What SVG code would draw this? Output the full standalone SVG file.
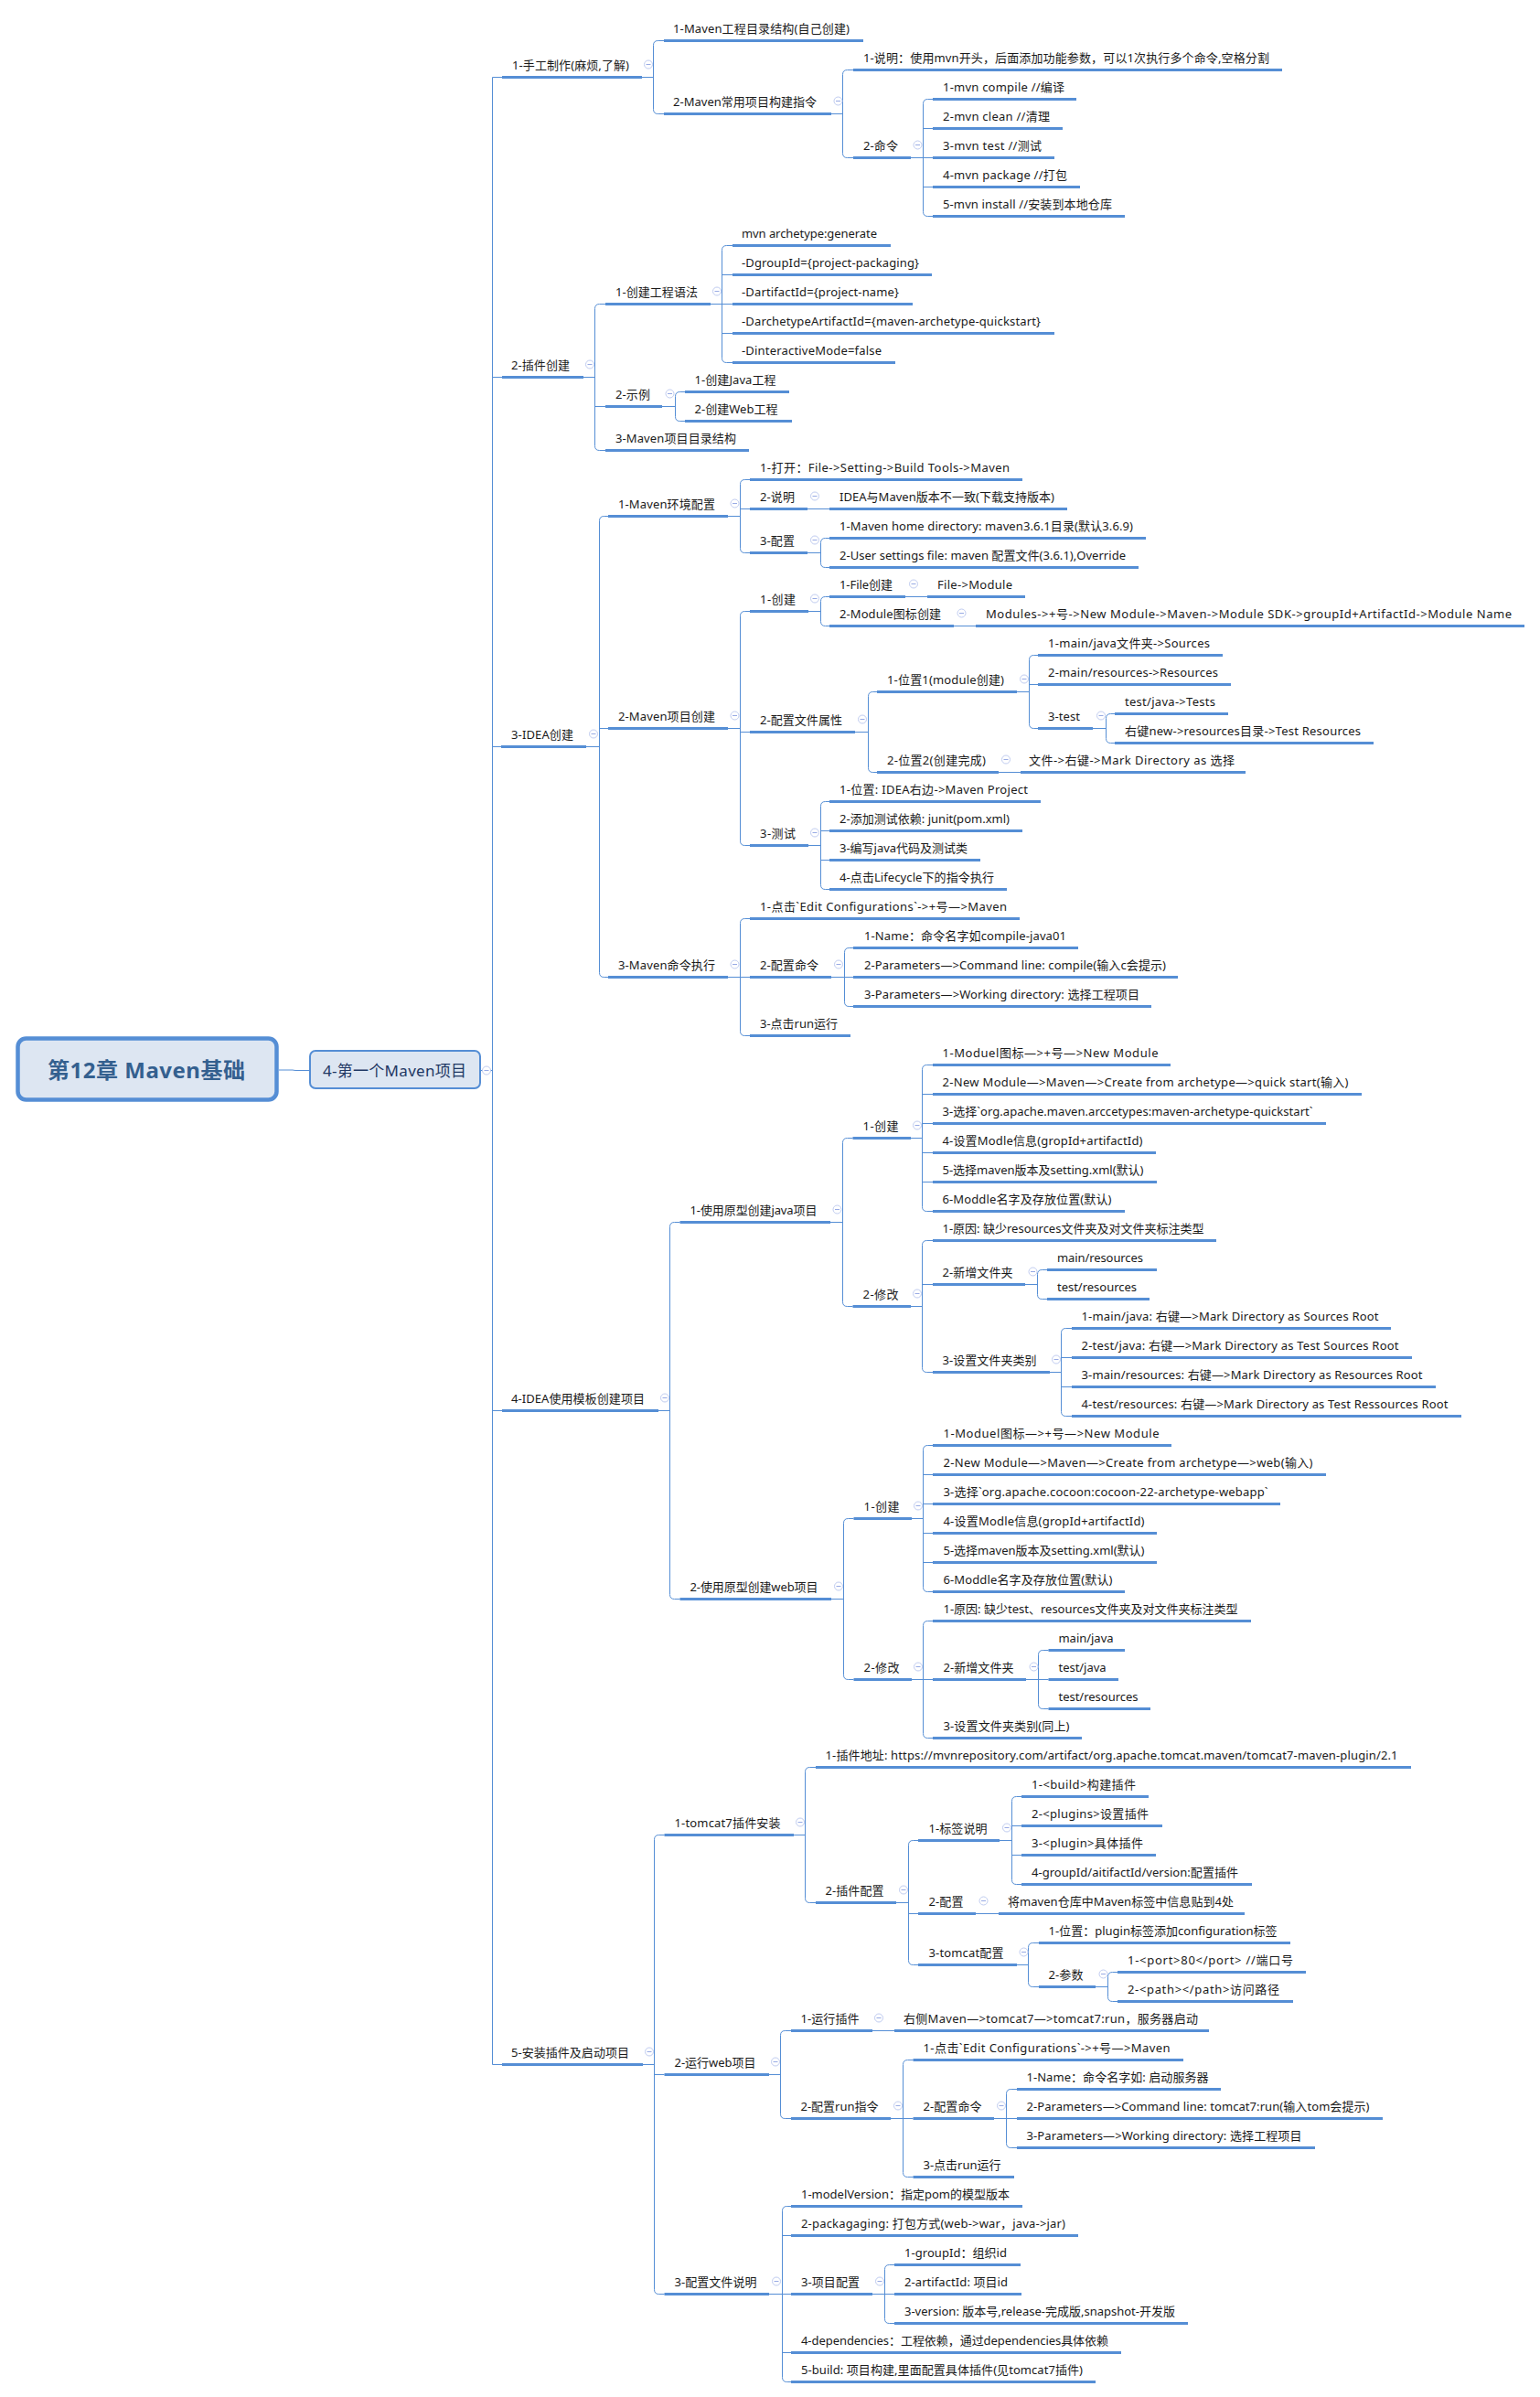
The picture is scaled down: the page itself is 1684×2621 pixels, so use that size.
<svg xmlns="http://www.w3.org/2000/svg" xmlns:xlink="http://www.w3.org/1999/xlink" width="1684" height="2621" viewBox="0 0 1684 2621">
<style>
text{font-family:"Noto Sans","Noto Sans CJK SC",sans-serif;font-size:13px;fill:#1a1a1a}
.u{fill:none;stroke:#558ed5;stroke-width:3}
.c path{fill:none;stroke:#558ed5;stroke-width:1}
.box{fill:#dde6f2;stroke:#558ed5}
</style>
<defs><g id="m"><circle r="4.5" fill="#fff" stroke="#c0ccf0" stroke-width="1"/><path d="M-2.5,0H2.5" stroke="#98aae4" stroke-width="1"/></g></defs>
<rect width="1684" height="2621" fill="#fff"/>
<g class="c" id="connectors">
<path d="M305,1170H320Q322,1170.5 324,1170.5H338"/>
<path d="M526,1170.5H538.5M549,84.5H538.5V2257.5H549M538.5,412.5H549M538.5,816.5H548M538.5,1542.5H549"/>
<path d="M702,84.5H714.5M726,44.5H719.5Q714.5,44.5 714.5,49.5V119.5Q714.5,124.5 719.5,124.5H726"/>
<path d="M909,124.5H921.5M933,76.5H926.5Q921.5,76.5 921.5,81.5V167.5Q921.5,172.5 926.5,172.5H933"/>
<path d="M996,172.5H1009.5M1020,108.5H1014.5Q1009.5,108.5 1009.5,113.5V231.5Q1009.5,236.5 1014.5,236.5H1020M1009.5,140.5H1020M1009.5,172.5H1020M1009.5,204.5H1020"/>
<path d="M638,412.5H650.5M662,332.5H655.5Q650.5,332.5 650.5,337.5V487.5Q650.5,492.5 655.5,492.5H662M650.5,444.5H662"/>
<path d="M777,332.5H789.5M801,268.5H794.5Q789.5,268.5 789.5,273.5V391.5Q789.5,396.5 794.5,396.5H801M789.5,300.5H801M789.5,332.5H801M789.5,364.5H801"/>
<path d="M724,444.5H738.5M749,428.5H743.5Q738.5,428.5 738.5,433.5V455.5Q738.5,460.5 743.5,460.5H749"/>
<path d="M641,816.5H655.5M665,564.5H660.5Q655.5,564.5 655.5,569.5V1063.5Q655.5,1068.5 660.5,1068.5H665M655.5,796.5H665"/>
<path d="M796,564.5H809.5M820,524.5H814.5Q809.5,524.5 809.5,529.5V599.5Q809.5,604.5 814.5,604.5H820M809.5,556.5H820"/>
<path d="M883,556.5H907"/>
<path d="M883,604.5H897.5M907,588.5H902.5Q897.5,588.5 897.5,593.5V615.5Q897.5,620.5 902.5,620.5H907"/>
<path d="M796,796.5H809.5M820,668.5H814.5Q809.5,668.5 809.5,673.5V919.5Q809.5,924.5 814.5,924.5H820M809.5,800.5H820"/>
<path d="M884,668.5H897.5M907,652.5H902.5Q897.5,652.5 897.5,657.5V679.5Q897.5,684.5 902.5,684.5H907"/>
<path d="M990,652.5H1014M1043,684.5H1067"/>
<path d="M935,800.5H949.5M959,756.5H954.5Q949.5,756.5 949.5,761.5V839.5Q949.5,844.5 954.5,844.5H959"/>
<path d="M1112,756.5H1125.5M1135,716.5H1130.5Q1125.5,716.5 1125.5,721.5V791.5Q1125.5,796.5 1130.5,796.5H1135M1125.5,748.5H1135"/>
<path d="M1195,796.5H1209.5M1219,780.5H1214.5Q1209.5,780.5 1209.5,785.5V807.5Q1209.5,812.5 1214.5,812.5H1219"/>
<path d="M1092,844.5H1116"/>
<path d="M884,924.5H897.5M907,876.5H902.5Q897.5,876.5 897.5,881.5V967.5Q897.5,972.5 902.5,972.5H907M897.5,908.5H907M897.5,940.5H907"/>
<path d="M796,1068.5H809.5M820,1004.5H814.5Q809.5,1004.5 809.5,1009.5V1127.5Q809.5,1132.5 814.5,1132.5H820M809.5,1068.5H820"/>
<path d="M909,1068.5H923.5M933,1036.5H928.5Q923.5,1036.5 923.5,1041.5V1095.5Q923.5,1100.5 928.5,1100.5H933M923.5,1068.5H933"/>
<path d="M720,1542.5H732.5M743.5,1336.5H737.5Q732.5,1336.5 732.5,1341.5V1743.5Q732.5,1748.5 737.5,1748.5H743.5"/>
<path d="M908,1336.5H921.5M932.5,1244.5H926.5Q921.5,1244.5 921.5,1249.5V1423.5Q921.5,1428.5 926.5,1428.5H932.5"/>
<path d="M996,1244.5H1008.5M1020,1164.5H1013.5Q1008.5,1164.5 1008.5,1169.5V1319.5Q1008.5,1324.5 1013.5,1324.5H1020M1008.5,1196.5H1020M1008.5,1228.5H1020M1008.5,1260.5H1020M1008.5,1292.5H1020"/>
<path d="M996,1428.5H1008.5M1020,1356.5H1013.5Q1008.5,1356.5 1008.5,1361.5V1495.5Q1008.5,1500.5 1013.5,1500.5H1020M1008.5,1404.5H1020"/>
<path d="M1121,1404.5H1134.5M1145,1388.5H1139.5Q1134.5,1388.5 1134.5,1393.5V1415.5Q1134.5,1420.5 1139.5,1420.5H1145"/>
<path d="M1148,1500.5H1160.5M1172,1452.5H1165.5Q1160.5,1452.5 1160.5,1457.5V1543.5Q1160.5,1548.5 1165.5,1548.5H1172M1160.5,1484.5H1172M1160.5,1516.5H1172"/>
<path d="M909,1748.5H922.5M933.5,1660.5H927.5Q922.5,1660.5 922.5,1665.5V1831.5Q922.5,1836.5 927.5,1836.5H933.5"/>
<path d="M997,1660.5H1009.5M1020,1580.5H1014.5Q1009.5,1580.5 1009.5,1585.5V1735.5Q1009.5,1740.5 1014.5,1740.5H1020M1009.5,1612.5H1020M1009.5,1644.5H1020M1009.5,1676.5H1020M1009.5,1708.5H1020"/>
<path d="M997,1836.5H1009.5M1020,1772.5H1014.5Q1009.5,1772.5 1009.5,1777.5V1895.5Q1009.5,1900.5 1014.5,1900.5H1020M1009.5,1836.5H1020"/>
<path d="M1122,1836.5H1135.5M1146.5,1804.5H1140.5Q1135.5,1804.5 1135.5,1809.5V1863.5Q1135.5,1868.5 1140.5,1868.5H1146.5M1135.5,1836.5H1146.5"/>
<path d="M703,2257.5H715.5M726.5,2006.5H720.5Q715.5,2006.5 715.5,2011.5V2503.5Q715.5,2508.5 720.5,2508.5H726.5M715.5,2268.5H726.5"/>
<path d="M868,2006.5H880.5M892,1932.5H885.5Q880.5,1932.5 880.5,1937.5V2075.5Q880.5,2080.5 885.5,2080.5H892"/>
<path d="M980,2080.5H993.5M1004,2012.5H998.5Q993.5,2012.5 993.5,2017.5V2143.5Q993.5,2148.5 998.5,2148.5H1004M993.5,2092.5H1004"/>
<path d="M1093,2012.5H1106.5M1117,1964.5H1111.5Q1106.5,1964.5 1106.5,1969.5V2055.5Q1106.5,2060.5 1111.5,2060.5H1117M1106.5,1996.5H1117M1106.5,2028.5H1117"/>
<path d="M1067,2092.5H1092"/>
<path d="M1112,2148.5H1124.5M1136,2124.5H1129.5Q1124.5,2124.5 1124.5,2129.5V2167.5Q1124.5,2172.5 1129.5,2172.5H1136"/>
<path d="M1198,2172.5H1211.5M1222,2156.5H1216.5Q1211.5,2156.5 1211.5,2161.5V2183.5Q1211.5,2188.5 1216.5,2188.5H1222"/>
<path d="M841,2268.5H853.5M865,2220.5H858.5Q853.5,2220.5 853.5,2225.5V2311.5Q853.5,2316.5 858.5,2316.5H865"/>
<path d="M954,2220.5H978"/>
<path d="M974,2316.5H987.5M998.5,2252.5H992.5Q987.5,2252.5 987.5,2257.5V2375.5Q987.5,2380.5 992.5,2380.5H998.5M987.5,2316.5H998.5"/>
<path d="M1087,2316.5H1100.5M1112,2284.5H1105.5Q1100.5,2284.5 1100.5,2289.5V2343.5Q1100.5,2348.5 1105.5,2348.5H1112M1100.5,2316.5H1112"/>
<path d="M841,2508.5H855.5M865,2412.5H860.5Q855.5,2412.5 855.5,2417.5V2599.5Q855.5,2604.5 860.5,2604.5H865M855.5,2444.5H865M855.5,2508.5H865M855.5,2572.5H865"/>
<path d="M954,2508.5H967.5M978,2476.5H972.5Q967.5,2476.5 967.5,2481.5V2535.5Q967.5,2540.5 972.5,2540.5H978M967.5,2508.5H978"/>
</g>
<g id="root"><rect class="box" x="19.5" y="1135.5" width="283" height="67" rx="9" stroke-width="4.5"/><text x="52" y="1179" textLength="216" style="font-size:24px;font-weight:700;fill:#34608f">第12章 Maven基础</text></g>
<g id="sub"><rect class="box" x="339" y="1149" width="186" height="41" rx="6" stroke-width="2"/><text x="353" y="1177" textLength="157" style="font-size:17px;fill:#1f3864">4-第一个Maven项目</text><use href="#m" x="532" y="1170.5"/></g>
<g id="a1"><text x="560" y="76" textLength="128">1-手工制作(麻烦,了解)</text><path class="u" d="M549,84.5H702"/><use href="#m" x="709" y="70.5"/></g>
<g id="a1-1"><text x="736" y="36" textLength="193">1-Maven工程目录结构(自己创建)</text><path class="u" d="M726,44.5H944"/></g>
<g id="a1-2"><text x="736" y="116" textLength="157">2-Maven常用项目构建指令</text><path class="u" d="M726,124.5H909"/><use href="#m" x="916.5" y="110.5"/></g>
<g id="a1-2-1"><text x="944" y="68" textLength="444">1-说明：使用mvn开头，后面添加功能参数，可以1次执行多个命令,空格分割</text><path class="u" d="M933,76.5H1402"/></g>
<g id="a1-2-2"><text x="944" y="164" textLength="38">2-命令</text><path class="u" d="M933,172.5H996"/><use href="#m" x="1003.5" y="158.5"/></g>
<g id="c1"><text x="1031" y="100" textLength="133">1-mvn compile //编译</text><path class="u" d="M1020,108.5H1177"/></g>
<g id="c2"><text x="1031" y="132" textLength="117">2-mvn clean //清理</text><path class="u" d="M1020,140.5H1162"/></g>
<g id="c3"><text x="1031" y="164" textLength="108">3-mvn test //测试</text><path class="u" d="M1020,172.5H1153"/></g>
<g id="c4"><text x="1031" y="196" textLength="136">4-mvn package //打包</text><path class="u" d="M1020,204.5H1181"/></g>
<g id="c5"><text x="1031" y="228" textLength="185">5-mvn install //安装到本地仓库</text><path class="u" d="M1020,236.5H1230"/></g>
<g id="a2"><text x="559" y="404" textLength="64">2-插件创建</text><path class="u" d="M549,412.5H638"/><use href="#m" x="645" y="398.5"/></g>
<g id="a2-1"><text x="673" y="324" textLength="90">1-创建工程语法</text><path class="u" d="M662,332.5H777"/><use href="#m" x="784" y="318.5"/></g>
<g id="d1"><text x="811" y="260" textLength="148">mvn archetype:generate</text><path class="u" d="M801,268.5H974"/></g>
<g id="d2"><text x="811" y="292" textLength="194">-DgroupId={project-packaging}</text><path class="u" d="M801,300.5H1019"/></g>
<g id="d3"><text x="811" y="324" textLength="172">-DartifactId={project-name}</text><path class="u" d="M801,332.5H998"/></g>
<g id="d4"><text x="811" y="356" textLength="327">-DarchetypeArtifactId={maven-archetype-quickstart}</text><path class="u" d="M801,364.5H1153"/></g>
<g id="d5"><text x="811" y="388" textLength="153">-DinteractiveMode=false</text><path class="u" d="M801,396.5H979"/></g>
<g id="a2-2"><text x="673" y="436" textLength="38">2-示例</text><path class="u" d="M662,444.5H724"/><use href="#m" x="732.5" y="430.5"/></g>
<g id="e1"><text x="759.5" y="420" textLength="89">1-创建Java工程</text><path class="u" d="M749,428.5H863"/></g>
<g id="e2"><text x="759.5" y="452" textLength="91">2-创建Web工程</text><path class="u" d="M749,460.5H866"/></g>
<g id="a2-3"><text x="673" y="484" textLength="132">3-Maven项目目录结构</text><path class="u" d="M662,492.5H819"/></g>
<g id="a3"><text x="559" y="808" textLength="68">3-IDEA创建</text><path class="u" d="M548,816.5H641"/><use href="#m" x="649" y="802.5"/></g>
<g id="a3-1"><text x="676" y="556" textLength="106">1-Maven环境配置</text><path class="u" d="M665,564.5H796"/><use href="#m" x="803.5" y="550.5"/></g>
<g id="f1"><text x="831" y="516" textLength="273">1-打开：File-&gt;Setting-&gt;Build Tools-&gt;Maven</text><path class="u" d="M820,524.5H1118"/></g>
<g id="f2"><text x="831" y="548" textLength="38">2-说明</text><path class="u" d="M820,556.5H883"/><use href="#m" x="891" y="542.5"/></g>
<g id="f2-1"><text x="918" y="548" textLength="235">IDEA与Maven版本不一致(下载支持版本)</text><path class="u" d="M907,556.5H1167"/></g>
<g id="f3"><text x="831" y="596" textLength="38">3-配置</text><path class="u" d="M820,604.5H883"/><use href="#m" x="891" y="590.5"/></g>
<g id="f3-1"><text x="918" y="580" textLength="321">1-Maven home directory: maven3.6.1目录(默认3.6.9)</text><path class="u" d="M907,588.5H1253"/></g>
<g id="f3-2"><text x="918" y="612" textLength="313">2-User settings file: maven 配置文件(3.6.1),Override</text><path class="u" d="M907,620.5H1245"/></g>
<g id="a3-2"><text x="676" y="788" textLength="106">2-Maven项目创建</text><path class="u" d="M665,796.5H796"/><use href="#m" x="803.5" y="782.5"/></g>
<g id="g1"><text x="831" y="660" textLength="39">1-创建</text><path class="u" d="M820,668.5H884"/><use href="#m" x="891" y="654.5"/></g>
<g id="g1-1"><text x="918" y="644" textLength="58">1-File创建</text><path class="u" d="M907,652.5H990"/><use href="#m" x="999" y="638.5"/></g>
<g id="g1-1-1"><text x="1025" y="644" textLength="82">File-&gt;Module</text><path class="u" d="M1014,652.5H1121"/></g>
<g id="g1-2"><text x="918" y="676" textLength="111">2-Module图标创建</text><path class="u" d="M907,684.5H1043"/><use href="#m" x="1051.5" y="670.5"/></g>
<g id="g1-2-1"><text x="1078" y="676" textLength="575">Modules-&gt;+号-&gt;New Module-&gt;Maven-&gt;Module SDK-&gt;groupId+ArtifactId-&gt;Module Name</text><path class="u" d="M1067,684.5H1667"/></g>
<g id="g2"><text x="831" y="792" textLength="90">2-配置文件属性</text><path class="u" d="M820,800.5H935"/><use href="#m" x="943" y="786.5"/></g>
<g id="g2-1"><text x="970" y="748" textLength="128">1-位置1(module创建)</text><path class="u" d="M959,756.5H1112"/><use href="#m" x="1120" y="742.5"/></g>
<g id="h1"><text x="1146" y="708" textLength="177">1-main/java文件夹-&gt;Sources</text><path class="u" d="M1135,716.5H1337"/></g>
<g id="h2"><text x="1146" y="740" textLength="186">2-main/resources-&gt;Resources</text><path class="u" d="M1135,748.5H1346"/></g>
<g id="h3"><text x="1146" y="788" textLength="35">3-test</text><path class="u" d="M1135,796.5H1195"/><use href="#m" x="1204" y="782.5"/></g>
<g id="h3-1"><text x="1230" y="772" textLength="99">test/java-&gt;Tests</text><path class="u" d="M1219,780.5H1343"/></g>
<g id="h3-2"><text x="1230" y="804" textLength="258">右键new-&gt;resources目录-&gt;Test Resources</text><path class="u" d="M1219,812.5H1502"/></g>
<g id="g2-2"><text x="970" y="836" textLength="108">2-位置2(创建完成)</text><path class="u" d="M959,844.5H1092"/><use href="#m" x="1100" y="830.5"/></g>
<g id="g2-2-1"><text x="1125" y="836" textLength="225">文件-&gt;右键-&gt;Mark Directory as 选择</text><path class="u" d="M1116,844.5H1362"/></g>
<g id="g3"><text x="831" y="916" textLength="39">3-测试</text><path class="u" d="M820,924.5H884"/><use href="#m" x="891" y="910.5"/></g>
<g id="i1"><text x="918" y="868" textLength="206">1-位置: IDEA右边-&gt;Maven Project</text><path class="u" d="M907,876.5H1138"/></g>
<g id="i2"><text x="918" y="900" textLength="186">2-添加测试依赖: junit(pom.xml)</text><path class="u" d="M907,908.5H1118"/></g>
<g id="i3"><text x="918" y="932" textLength="140">3-编写java代码及测试类</text><path class="u" d="M907,940.5H1072"/></g>
<g id="i4"><text x="918" y="964" textLength="169">4-点击Lifecycle下的指令执行</text><path class="u" d="M907,972.5H1101"/></g>
<g id="a3-3"><text x="676" y="1060" textLength="106">3-Maven命令执行</text><path class="u" d="M665,1068.5H796"/><use href="#m" x="803.5" y="1054.5"/></g>
<g id="j1"><text x="831" y="996" textLength="270">1-点击`Edit Configurations`-&gt;+号—&gt;Maven</text><path class="u" d="M820,1004.5H1115"/></g>
<g id="j2"><text x="831" y="1060" textLength="64">2-配置命令</text><path class="u" d="M820,1068.5H909"/><use href="#m" x="917" y="1054.5"/></g>
<g id="j2-1"><text x="945" y="1028" textLength="221">1-Name：命令名字如compile-java01</text><path class="u" d="M933,1036.5H1179"/></g>
<g id="j2-2"><text x="945" y="1060" textLength="330">2-Parameters—&gt;Command line: compile(输入c会提示)</text><path class="u" d="M933,1068.5H1288"/></g>
<g id="j2-3"><text x="945" y="1092" textLength="301">3-Parameters—&gt;Working directory: 选择工程项目</text><path class="u" d="M933,1100.5H1259"/></g>
<g id="j3"><text x="831" y="1124" textLength="85">3-点击run运行</text><path class="u" d="M820,1132.5H930"/></g>
<g id="a4"><text x="559" y="1534" textLength="146">4-IDEA使用模板创建项目</text><path class="u" d="M549,1542.5H720"/><use href="#m" x="727" y="1528.5"/></g>
<g id="k"><text x="754.5" y="1328" textLength="139">1-使用原型创建java项目</text><path class="u" d="M743.5,1336.5H908"/><use href="#m" x="915.5" y="1322.5"/></g>
<g id="k1"><text x="943.5" y="1236" textLength="39">1-创建</text><path class="u" d="M932.5,1244.5H996"/><use href="#m" x="1003" y="1230.5"/></g>
<g id="k1-1"><text x="1030.5" y="1156" textLength="236">1-Moduel图标—&gt;+号—&gt;New Module</text><path class="u" d="M1020,1164.5H1280"/></g>
<g id="k1-2"><text x="1030.5" y="1188" textLength="444">2-New Module—&gt;Maven—&gt;Create from archetype—&gt;quick start(输入)</text><path class="u" d="M1020,1196.5H1489"/></g>
<g id="k1-3"><text x="1030.5" y="1220" textLength="405">3-选择`org.apache.maven.arccetypes:maven-archetype-quickstart`</text><path class="u" d="M1020,1228.5H1450"/></g>
<g id="k1-4"><text x="1030.5" y="1252" textLength="219">4-设置Modle信息(gropId+artifactId)</text><path class="u" d="M1020,1260.5H1264"/></g>
<g id="k1-5"><text x="1030.5" y="1284" textLength="220">5-选择maven版本及setting.xml(默认)</text><path class="u" d="M1020,1292.5H1265"/></g>
<g id="k1-6"><text x="1030.5" y="1316" textLength="185">6-Moddle名字及存放位置(默认)</text><path class="u" d="M1020,1324.5H1230"/></g>
<g id="k2"><text x="943.5" y="1420" textLength="39">2-修改</text><path class="u" d="M932.5,1428.5H996"/><use href="#m" x="1003" y="1414.5"/></g>
<g id="k2-1"><text x="1030.5" y="1348" textLength="286">1-原因: 缺少resources文件夹及对文件夹标注类型</text><path class="u" d="M1020,1356.5H1330"/></g>
<g id="k2-2"><text x="1030.5" y="1396" textLength="77">2-新增文件夹</text><path class="u" d="M1020,1404.5H1121"/><use href="#m" x="1129.5" y="1390.5"/></g>
<g id="k2-2-1"><text x="1156" y="1380" textLength="94">main/resources</text><path class="u" d="M1145,1388.5H1265"/></g>
<g id="k2-2-2"><text x="1156" y="1412" textLength="87">test/resources</text><path class="u" d="M1145,1420.5H1257"/></g>
<g id="k2-3"><text x="1030.5" y="1492" textLength="103">3-设置文件夹类别</text><path class="u" d="M1020,1500.5H1148"/><use href="#m" x="1155" y="1486.5"/></g>
<g id="k2-3-1"><text x="1182.5" y="1444" textLength="325">1-main/java: 右键—&gt;Mark Directory as Sources Root</text><path class="u" d="M1172,1452.5H1521"/></g>
<g id="k2-3-2"><text x="1182.5" y="1476" textLength="347">2-test/java: 右键—&gt;Mark Directory as Test Sources Root</text><path class="u" d="M1172,1484.5H1544"/></g>
<g id="k2-3-3"><text x="1182.5" y="1508" textLength="373">3-main/resources: 右键—&gt;Mark Directory as Resources Root</text><path class="u" d="M1172,1516.5H1570"/></g>
<g id="k2-3-4"><text x="1182.5" y="1540" textLength="401">4-test/resources: 右键—&gt;Mark Directory as Test Ressources Root</text><path class="u" d="M1172,1548.5H1598"/></g>
<g id="l"><text x="754.5" y="1740" textLength="140">2-使用原型创建web项目</text><path class="u" d="M743.5,1748.5H909"/><use href="#m" x="917" y="1734.5"/></g>
<g id="l1"><text x="944.5" y="1652" textLength="39">1-创建</text><path class="u" d="M933.5,1660.5H997"/><use href="#m" x="1004" y="1646.5"/></g>
<g id="l1-1"><text x="1031.5" y="1572" textLength="236">1-Moduel图标—&gt;+号—&gt;New Module</text><path class="u" d="M1020,1580.5H1281"/></g>
<g id="l1-2"><text x="1031.5" y="1604" textLength="404">2-New Module—&gt;Maven—&gt;Create from archetype—&gt;web(输入)</text><path class="u" d="M1020,1612.5H1450"/></g>
<g id="l1-3"><text x="1031.5" y="1636" textLength="355">3-选择`org.apache.cocoon:cocoon-22-archetype-webapp`</text><path class="u" d="M1020,1644.5H1400"/></g>
<g id="l1-4"><text x="1031.5" y="1668" textLength="220">4-设置Modle信息(gropId+artifactId)</text><path class="u" d="M1020,1676.5H1265"/></g>
<g id="l1-5"><text x="1031.5" y="1700" textLength="220">5-选择maven版本及setting.xml(默认)</text><path class="u" d="M1020,1708.5H1265"/></g>
<g id="l1-6"><text x="1031.5" y="1732" textLength="185">6-Moddle名字及存放位置(默认)</text><path class="u" d="M1020,1740.5H1230"/></g>
<g id="l2"><text x="944.5" y="1828" textLength="39">2-修改</text><path class="u" d="M933.5,1836.5H997"/><use href="#m" x="1004" y="1822.5"/></g>
<g id="l2-1"><text x="1031.5" y="1764" textLength="322">1-原因: 缺少test、resources文件夹及对文件夹标注类型</text><path class="u" d="M1020,1772.5H1368"/></g>
<g id="l2-2"><text x="1031.5" y="1828" textLength="77">2-新增文件夹</text><path class="u" d="M1020,1836.5H1122"/><use href="#m" x="1130.5" y="1822.5"/></g>
<g id="l2-2-1"><text x="1157.5" y="1796" textLength="60">main/java</text><path class="u" d="M1146.5,1804.5H1230"/></g>
<g id="l2-2-2"><text x="1157.5" y="1828" textLength="52">test/java</text><path class="u" d="M1146.5,1836.5H1223"/></g>
<g id="l2-2-3"><text x="1157.5" y="1860" textLength="87">test/resources</text><path class="u" d="M1146.5,1868.5H1258"/></g>
<g id="l2-3"><text x="1031.5" y="1892" textLength="138">3-设置文件夹类别(同上)</text><path class="u" d="M1020,1900.5H1183"/></g>
<g id="a5"><text x="559" y="2249" textLength="129">5-安装插件及启动项目</text><path class="u" d="M549,2257.5H703"/><use href="#m" x="710" y="2243.5"/></g>
<g id="o"><text x="737.5" y="1998" textLength="116">1-tomcat7插件安装</text><path class="u" d="M726.5,2006.5H868"/><use href="#m" x="875" y="1992.5"/></g>
<g id="o1"><text x="902.5" y="1924" textLength="626">1-插件地址: https://mvnrepository.com/artifact/org.apache.tomcat.maven/tomcat7-maven-plugin/2.1</text><path class="u" d="M892,1932.5H1543"/></g>
<g id="o2"><text x="902.5" y="2072" textLength="64">2-插件配置</text><path class="u" d="M892,2080.5H980"/><use href="#m" x="988" y="2066.5"/></g>
<g id="o2-1"><text x="1015.5" y="2004" textLength="64">1-标签说明</text><path class="u" d="M1004,2012.5H1093"/><use href="#m" x="1101" y="1998.5"/></g>
<g id="p1"><text x="1128" y="1956" textLength="114">1-&lt;build&gt;构建插件</text><path class="u" d="M1117,1964.5H1256"/></g>
<g id="p2"><text x="1128" y="1988" textLength="128">2-&lt;plugins&gt;设置插件</text><path class="u" d="M1117,1996.5H1271"/></g>
<g id="p3"><text x="1128" y="2020" textLength="122">3-&lt;plugin&gt;具体插件</text><path class="u" d="M1117,2028.5H1264"/></g>
<g id="p4"><text x="1128" y="2052" textLength="226">4-groupId/aitifactId/version:配置插件</text><path class="u" d="M1117,2060.5H1369"/></g>
<g id="o2-2"><text x="1015.5" y="2084" textLength="38">2-配置</text><path class="u" d="M1004,2092.5H1067"/><use href="#m" x="1075.5" y="2078.5"/></g>
<g id="o2-2-1"><text x="1102" y="2084" textLength="247">将maven仓库中Maven标签中信息贴到4处</text><path class="u" d="M1092,2092.5H1361"/></g>
<g id="o2-3"><text x="1015.5" y="2140" textLength="82">3-tomcat配置</text><path class="u" d="M1004,2148.5H1112"/><use href="#m" x="1119.5" y="2134.5"/></g>
<g id="q1"><text x="1146.5" y="2116" textLength="250">1-位置：plugin标签添加configuration标签</text><path class="u" d="M1136,2124.5H1411"/></g>
<g id="q2"><text x="1146.5" y="2164" textLength="38">2-参数</text><path class="u" d="M1136,2172.5H1198"/><use href="#m" x="1206.5" y="2158.5"/></g>
<g id="q2-1"><text x="1233" y="2148" textLength="181">1-&lt;port&gt;80&lt;/port&gt; //端口号</text><path class="u" d="M1222,2156.5H1428"/></g>
<g id="q2-2"><text x="1233" y="2180" textLength="166">2-&lt;path&gt;&lt;/path&gt;访问路径</text><path class="u" d="M1222,2188.5H1414"/></g>
<g id="r"><text x="737.5" y="2260" textLength="89">2-运行web项目</text><path class="u" d="M726.5,2268.5H841"/><use href="#m" x="848" y="2254.5"/></g>
<g id="r1"><text x="875.5" y="2212" textLength="64">1-运行插件</text><path class="u" d="M865,2220.5H954"/><use href="#m" x="961" y="2206.5"/></g>
<g id="r1-1"><text x="988" y="2212" textLength="322">右侧Maven—&gt;tomcat7—&gt;tomcat7:run，服务器启动</text><path class="u" d="M978,2220.5H1322"/></g>
<g id="r2"><text x="875.5" y="2308" textLength="85">2-配置run指令</text><path class="u" d="M865,2316.5H974"/><use href="#m" x="982" y="2302.5"/></g>
<g id="s1"><text x="1009.5" y="2244" textLength="270">1-点击`Edit Configurations`-&gt;+号—&gt;Maven</text><path class="u" d="M998.5,2252.5H1294"/></g>
<g id="s2"><text x="1009.5" y="2308" textLength="64">2-配置命令</text><path class="u" d="M998.5,2316.5H1087"/><use href="#m" x="1095" y="2302.5"/></g>
<g id="s2-1"><text x="1122.5" y="2276" textLength="199">1-Name：命令名字如: 启动服务器</text><path class="u" d="M1112,2284.5H1335"/></g>
<g id="s2-2"><text x="1122.5" y="2308" textLength="375">2-Parameters—&gt;Command line: tomcat7:run(输入tom会提示)</text><path class="u" d="M1112,2316.5H1512"/></g>
<g id="s2-3"><text x="1122.5" y="2340" textLength="301">3-Parameters—&gt;Working directory: 选择工程项目</text><path class="u" d="M1112,2348.5H1438"/></g>
<g id="s3"><text x="1009.5" y="2372" textLength="85">3-点击run运行</text><path class="u" d="M998.5,2380.5H1109"/></g>
<g id="t"><text x="737.5" y="2500" textLength="90">3-配置文件说明</text><path class="u" d="M726.5,2508.5H841"/><use href="#m" x="849" y="2494.5"/></g>
<g id="t1"><text x="876" y="2404" textLength="228">1-modelVersion：指定pom的模型版本</text><path class="u" d="M865,2412.5H1118"/></g>
<g id="t2"><text x="876" y="2436" textLength="289">2-packagaging: 打包方式(web-&gt;war，java-&gt;jar)</text><path class="u" d="M865,2444.5H1179"/></g>
<g id="t3"><text x="876" y="2500" textLength="64">3-项目配置</text><path class="u" d="M865,2508.5H954"/><use href="#m" x="962" y="2494.5"/></g>
<g id="t3-1"><text x="989" y="2468" textLength="112">1-groupId：组织id</text><path class="u" d="M978,2476.5H1116"/></g>
<g id="t3-2"><text x="989" y="2500" textLength="113">2-artifactId: 项目id</text><path class="u" d="M978,2508.5H1117"/></g>
<g id="t3-3"><text x="989" y="2532" textLength="296">3-version: 版本号,release-完成版,snapshot-开发版</text><path class="u" d="M978,2540.5H1299"/></g>
<g id="t4"><text x="876" y="2564" textLength="336">4-dependencies：工程依赖，通过dependencies具体依赖</text><path class="u" d="M865,2572.5H1226"/></g>
<g id="t5"><text x="876" y="2596" textLength="308">5-build: 项目构建,里面配置具体插件(见tomcat7插件)</text><path class="u" d="M865,2604.5H1198"/></g>
</svg>
